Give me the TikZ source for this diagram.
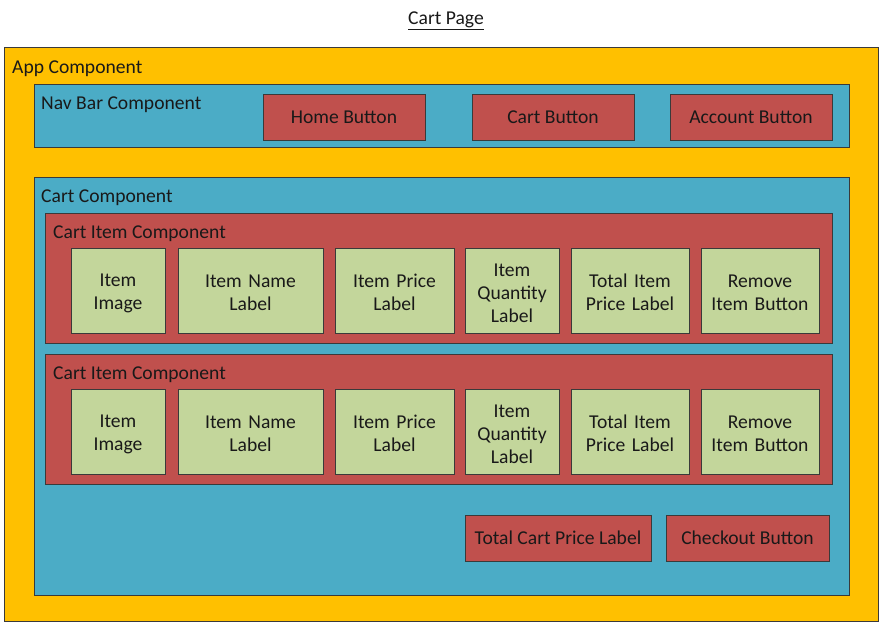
\documentclass[tikz,border=0pt]{standalone}
\usepackage{fontspec}
\setmainfont{Carlito}
\usepackage{tikz}
\usetikzlibrary{positioning}
\definecolor{appyellow}{HTML}{FFC000}
\definecolor{compblue}{HTML}{4BACC6}
\definecolor{partred}{HTML}{C0504D}
\definecolor{leafgreen}{HTML}{C3D69B}
\definecolor{edgegray}{HTML}{3A3A3A}

\begin{document}
\begin{tikzpicture}[
    x=1pt, y=-1pt,
    every node/.style={font=\fontsize{19.6}{23}\selectfont, text=black!90},
    panel/.style={draw=edgegray, line width=1pt, inner sep=0pt, anchor=north west},
    appbox/.style={panel, fill=appyellow},
    compbox/.style={panel, fill=compblue},
    itembox/.style={panel, fill=partred},
    btnbox/.style={panel, fill=partred, anchor=center, align=center},
    leafbox/.style={panel, fill=leafgreen, anchor=center, align=center, text width=#1,
        execute at begin node={\rule{0pt}{16.5pt}}},
    leafbox/.default=80pt,
    caption/.style={anchor=west, inner sep=0pt}
]
    \useasboundingbox (0,0) rectangle (880,624);

    % === TITLE ===
    \node[anchor=center] (title) at (446,21) {\underline{Cart Page}};

    % === APP COMPONENT ===
    \node[appbox, minimum width=874pt, minimum height=574pt] (app) at (4,47) {};
    \node[caption] (applabel) at (12,69) {App Component};

    % === NAV BAR ===
    \node[compbox, minimum width=815pt, minimum height=63pt] (nav) at (34,84) {};
    \node[caption] (navlabel) at (41,105) {Nav Bar Component};
    \foreach \cx/\name/\txt in {344/home/Home Button, 553/cart/Cart Button, 751/account/Account Button} {
        \node[btnbox, minimum width=162pt, minimum height=46pt] (\name) at (\cx,117) {\txt};
    }

    % === CART COMPONENT ===
    \node[compbox, minimum width=815pt, minimum height=418pt] (cartcomp) at (34,177) {};
    \node[caption] (cartlabel) at (41,198) {Cart Component};

    % === CART ITEMS ===
    \foreach \row/\ty in {1/213, 2/354} {
        \node[itembox, minimum width=787pt, minimum height=130pt] (item\row) at (45,\ty) {};
        \node[caption] (itemlabel\row) at (53,\ty+21) {Cart Item Component};
        \foreach \cx/\w/\name/\txt in {
            118/94/image/{Item\\Image},
            250.5/145/name/{Item Name\\Label},
            394.5/119/price/{Item Price\\Label},
            512/94/qty/{Item\\Quantity\\Label},
            630/118/total/{Total Item\\Price Label},
            760/118/remove/{Remove\\Item Button}} {
            \node[leafbox=\w pt, minimum height=85pt] (\name\row) at (\cx,\ty+78) {\txt};
        }
    }

    % === CART FOOTER ===
    \node[btnbox, minimum width=186pt, minimum height=46pt] (cartprice) at (558,538) {Total Cart Price Label};
    \node[btnbox, minimum width=163pt, minimum height=46pt] (checkout) at (747.5,538) {Checkout Button};
\end{tikzpicture}
\end{document}
